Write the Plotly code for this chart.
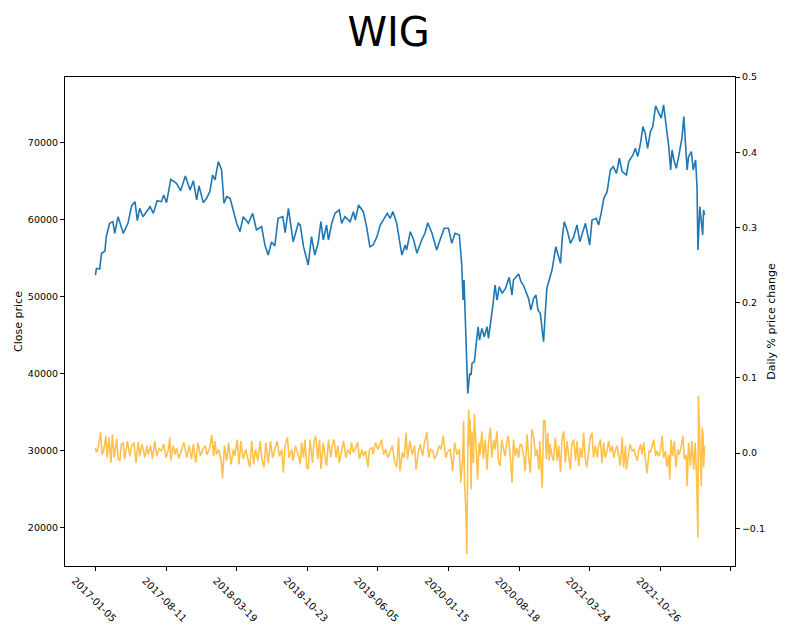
import plotly.graph_objects as go

# WIG close price (trading-day index -> value)
close_idx = [0, 2, 9, 13, 20, 23, 30, 37, 41, 48, 59, 69, 77, 84, 89, 94, 101, 116, 123, 131,
             140, 145, 151, 160, 172, 181, 191, 201, 208, 215, 220, 229, 236, 243, 249, 254, 261, 268, 273, 279,
             286, 293, 300, 307, 314, 325, 334, 342, 353, 360, 367, 374, 381, 388, 398, 403, 410, 420, 431, 435,
             442, 452, 459, 466, 473, 479, 484, 491, 495, 502, 509, 518, 523, 530, 541, 548, 552, 559, 569, 576,
             583, 590, 598, 605, 612, 620, 626, 632, 640, 646, 651, 658, 661, 669, 676, 683, 693, 700, 706, 715,
             725, 732, 741, 750, 757, 764, 773, 778, 781, 783, 788, 791, 795, 798, 800, 805, 809, 813, 816, 821,
             826, 832, 835, 839, 844, 849, 853, 858, 864, 871, 879, 885, 888, 899, 904, 909, 915, 920, 925, 931,
             936, 940, 945, 952, 956, 959, 965, 970, 978, 982, 988, 992, 996, 1002, 1009, 1016, 1023, 1029, 1036, 1041,
             1050, 1055, 1064, 1069, 1075, 1080, 1087, 1094, 1100, 1107, 1113, 1119, 1128, 1133, 1142, 1147, 1152, 1158, 1163, 1168,
             1173, 1179, 1184, 1190, 1197, 1202, 1207, 1213, 1218, 1222, 1225, 1229, 1234, 1239, 1246, 1250, 1253, 1257, 1260, 1266,
             1270, 1275, 1278, 1280, 1284, 1287, 1290, 1292, 1294]
close_val = [52800, 53680, 53600, 55630, 55900, 57790, 59530, 59750, 58230, 60390, 58230, 59530, 61820, 62340, 59880, 61480, 60390, 61690, 60820, 62470,
             62340, 63210, 62210, 65250, 64730, 63770, 65680, 63860, 65070, 62560, 64380, 62210, 62780, 63640, 65810, 65160, 67550, 66460, 62130, 62990,
             62780, 61260, 59530, 58440, 60390, 59530, 60820, 58660, 59090, 56710, 55410, 57100, 56580, 60180, 60390, 58310, 61480, 57140, 59530, 59310,
             56500, 54110, 57790, 55410, 56930, 59740, 57360, 59310, 57360, 59530, 60830, 61260, 59530, 60390, 59740, 61040, 59960, 61910, 61040, 59090,
             56490, 56710, 57790, 59310, 59960, 60830, 60170, 61040, 59530, 56930, 55410, 56710, 56060, 58440, 57360, 55630, 57360, 58230, 59610, 58230,
             56060, 57360, 58880, 58880, 56930, 58230, 58010, 54330, 49560, 52160, 42190, 37420, 40020, 39830, 41330, 41540, 43930, 46090, 44360, 45880,
             44790, 46090, 44580, 46310, 48690, 51510, 49560, 51290, 50430, 51080, 52510, 50210, 52160, 52940, 51940, 51510, 50640, 49780, 48260, 49780,
             50210, 48260, 47830, 44140, 48260, 51080, 52380, 53460, 56490, 55620, 54330, 57790, 59740, 58660, 56930, 57790, 59310, 57140, 58660, 59530,
             56710, 59960, 60170, 59310, 61040, 62780, 63640, 66460, 66890, 66030, 67980, 66240, 65810, 67540, 68410, 69280, 68190, 69930, 72090, 71230,
             69280, 71440, 72090, 74790, 73840, 73190, 74920, 72090, 69490, 66460, 69060, 67760, 66680, 68190, 70580, 73390, 70800, 66460, 68190, 68840,
             66460, 67760, 64290, 56060, 61690, 59960, 58010, 61260, 60600]

# daily % price change (fraction)
pct_idx = [0, 2, 5, 11, 14, 18, 22, 25, 29, 33, 36, 40, 45, 48, 52, 55, 59, 62, 68, 73,
           77, 82, 86, 91, 94, 99, 105, 109, 112, 117, 121, 126, 130, 135, 140, 145, 150, 155, 158, 160,
           165, 169, 172, 177, 183, 188, 194, 199, 204, 208, 213, 218, 223, 228, 233, 237, 243, 247, 251, 254,
           257, 262, 267, 270, 274, 279, 283, 288, 293, 296, 301, 305, 309, 314, 319, 323, 328, 332, 336, 340,
           345, 350, 353, 358, 362, 367, 372, 376, 381, 386, 391, 396, 399, 403, 408, 411, 417, 420, 425, 431,
           435, 438, 442, 445, 449, 452, 456, 461, 464, 468, 472, 476, 479, 484, 488, 491, 495, 500, 503, 507,
           511, 515, 518, 523, 527, 532, 536, 541, 544, 548, 553, 557, 561, 566, 569, 574, 579, 582, 587, 590,
           595, 600, 605, 608, 612, 617, 621, 626, 631, 635, 640, 644, 647, 652, 656, 660, 663, 668, 673, 678,
           681, 686, 690, 695, 699, 704, 708, 712, 717, 720, 725, 730, 734, 739, 744, 749, 754, 759, 763, 768,
           773, 776, 780, 782, 784, 787, 789, 791, 793, 795, 796, 798, 800, 803, 805, 808, 812, 815, 817, 821,
           824, 828, 832, 835, 839, 842, 846, 849, 853, 856, 860, 863, 867, 870, 874, 877, 881, 885, 888, 892,
           895, 899, 902, 906, 910, 913, 917, 920, 924, 927, 931, 935, 938, 942, 944, 946, 949, 952, 955, 958,
           961, 964, 966, 970, 973, 977, 981, 984, 988, 991, 995, 998, 1002, 1005, 1009, 1012, 1016, 1020, 1023, 1027,
           1030, 1034, 1037, 1041, 1044, 1048, 1051, 1055, 1058, 1062, 1066, 1069, 1073, 1076, 1080, 1083, 1087, 1090, 1094, 1098,
           1101, 1105, 1108, 1112, 1115, 1119, 1122, 1126, 1128, 1133, 1136, 1140, 1144, 1147, 1151, 1154, 1158, 1161, 1165, 1168,
           1172, 1176, 1179, 1183, 1186, 1190, 1193, 1197, 1200, 1204, 1207, 1211, 1214, 1218, 1220, 1223, 1226, 1230, 1233, 1237,
           1240, 1244, 1248, 1251, 1255, 1257, 1260, 1264, 1267, 1271, 1274, 1277, 1280, 1281, 1283, 1285, 1287, 1289, 1291, 1292,
           1294]
pct_val = [0.007, 0.001, 0.005, 0.028, -0.002, 0.005, 0.023, -0.006, 0.021, -0.013, 0.025, -0.006, 0.019, -0.008, -0.010, 0.012, 0.014, -0.008, 0.016, -0.004,
           0.010, 0.014, -0.013, 0.015, -0.004, 0.012, -0.006, 0.010, -0.002, 0.010, -0.008, 0.016, -0.004, 0.006, 0.003, 0.012, -0.006, 0.005, 0.021, -0.010,
           0.010, -0.002, 0.007, -0.007, 0.005, 0.014, -0.006, 0.010, -0.008, 0.012, -0.013, 0.014, -0.004, 0.005, 0.010, -0.002, 0.007, 0.024, -0.004, 0.016,
           -0.002, 0.005, -0.010, -0.033, 0.010, -0.010, 0.014, -0.015, 0.005, -0.004, 0.018, -0.015, 0.016, -0.008, 0.005, -0.006, -0.019, 0.016, -0.015, 0.005,
           -0.010, 0.016, -0.006, -0.019, 0.014, -0.013, 0.016, -0.006, 0.005, 0.016, -0.004, 0.005, -0.026, 0.010, 0.021, -0.006, 0.005, -0.010, 0.010, -0.002,
           -0.015, 0.014, -0.006, 0.018, -0.019, -0.021, 0.018, -0.013, 0.014, 0.023, -0.008, 0.018, -0.021, 0.014, -0.006, -0.017, 0.018, -0.006, 0.010, 0.018,
           -0.006, 0.010, -0.013, 0.005, 0.016, -0.006, 0.005, -0.002, 0.014, 0.001, 0.007, 0.015, -0.008, 0.005, -0.004, 0.003, -0.019, 0.005, 0.007, -0.002,
           0.014, 0.005, 0.012, 0.018, -0.002, 0.005, -0.006, 0.001, 0.010, -0.010, -0.019, 0.021, -0.024, 0.001, -0.006, 0.027, -0.008, 0.016, -0.002, 0.010,
           -0.022, 0.001, 0.012, -0.004, 0.014, 0.028, -0.006, 0.005, 0.003, -0.008, -0.002, 0.010, 0.005, 0.023, -0.006, 0.003, 0.005, -0.024, 0.014, -0.002,
           0.005, -0.039, -0.008, 0.043, -0.039, -0.077, -0.134, 0.005, 0.058, 0.010, 0.045, -0.048, 0.029, -0.013, 0.052, 0.018, -0.035, 0.014, -0.002, 0.029,
           -0.008, 0.018, -0.022, 0.014, 0.034, -0.006, 0.018, 0.005, 0.029, -0.010, -0.017, 0.018, 0.005, -0.004, 0.014, 0.023, -0.004, -0.039, 0.018, -0.004,
           0.007, -0.006, 0.012, 0.010, -0.006, -0.024, 0.025, -0.004, -0.026, 0.032, 0.021, -0.004, 0.005, -0.022, 0.016, -0.008, -0.046, 0.043, 0.043, -0.008,
           0.027, -0.010, 0.012, -0.004, -0.010, 0.021, -0.010, 0.010, -0.025, 0.018, 0.029, -0.013, 0.016, -0.002, -0.022, 0.012, 0.018, -0.010, 0.016, -0.017,
           0.007, -0.006, 0.027, -0.010, -0.019, 0.003, 0.021, 0.027, -0.006, 0.010, -0.006, 0.010, 0.018, -0.013, 0.014, -0.006, 0.003, 0.016, 0.001, 0.010,
           -0.006, 0.005, 0.010, -0.004, -0.017, 0.021, -0.019, 0.010, -0.022, 0.001, 0.012, 0.003, 0.005, -0.002, -0.010, 0.003, 0.012, -0.002, 0.014, -0.006,
           -0.027, 0.003, 0.001, 0.010, 0.018, -0.004, 0.003, -0.004, 0.001, 0.023, -0.006, 0.003, -0.018, -0.002, -0.035, 0.018, -0.004, 0.016, -0.019, 0.005,
           -0.002, 0.007, 0.023, -0.008, -0.002, -0.044, 0.014, -0.017, 0.016, -0.022, 0.014, -0.030, -0.112, 0.076, 0.036, -0.017, -0.044, 0.034, 0.023, -0.019,
           0.010]

tick_pos = [0, 150, 300, 450, 600, 750, 900, 1050, 1200, 1350]
tick_text = ["2017-01-05", "2017-08-11", "2018-03-19", "2018-10-23", "2019-06-05",
             "2020-01-15", "2020-08-18", "2021-03-24", "2021-10-26", ""]

n = close_idx[-1]

fig = go.Figure()
fig.add_trace(go.Scatter(x=close_idx, y=close_val, mode="lines",
                         line=dict(color="#1f77b4", width=1.6), yaxis="y"))
fig.add_trace(go.Scatter(x=pct_idx, y=pct_val, mode="lines",
                         line=dict(color="rgba(255,165,0,0.7)", width=1.6), yaxis="y2"))

# page body has an 8px margin, so the figure is a bit smaller than the window
fig.update_layout(
    width=780, height=619,
    margin=dict(l=57, r=53, t=69, b=61),
    paper_bgcolor="white", plot_bgcolor="white",
    showlegend=False,
    font=dict(family="DejaVu Sans", color="black", size=9.5),
    title=dict(text="WIG", x=0.488, xanchor="center", y=0.984, yanchor="top",
               font=dict(size=40, color="black")),
    xaxis=dict(range=[-0.05 * n, 1.05 * n], tickvals=tick_pos, ticktext=tick_text,
               tickangle=45, ticks="outside", ticklen=4, tickcolor="black",
               tickfont=dict(size=10),
               showline=True, linecolor="black", linewidth=1, mirror=True,
               showgrid=False, zeroline=False, ticklabelshift=-21, automargin=False),
    yaxis=dict(range=[15000, 78540], tickvals=[20000, 30000, 40000, 50000, 60000, 70000],
               tickformat="d", ticks="outside", ticklen=4, tickcolor="black",
               showline=True, linecolor="black", linewidth=1,
               showgrid=False, zeroline=False, automargin=False,
               title=dict(text="Close price", standoff=3)),
    yaxis2=dict(overlaying="y", side="right", range=[-0.15, 0.5],
                tickvals=[-0.1, 0.0, 0.1, 0.2, 0.3, 0.4, 0.5], tickformat=".1f",
                ticks="outside", ticklen=4, tickcolor="black",
                showline=True, linecolor="black", linewidth=1,
                showgrid=False, zeroline=False, automargin=False,
                title=dict(text="Daily % price change", standoff=3)),
)

fig.write_html("out.html")
